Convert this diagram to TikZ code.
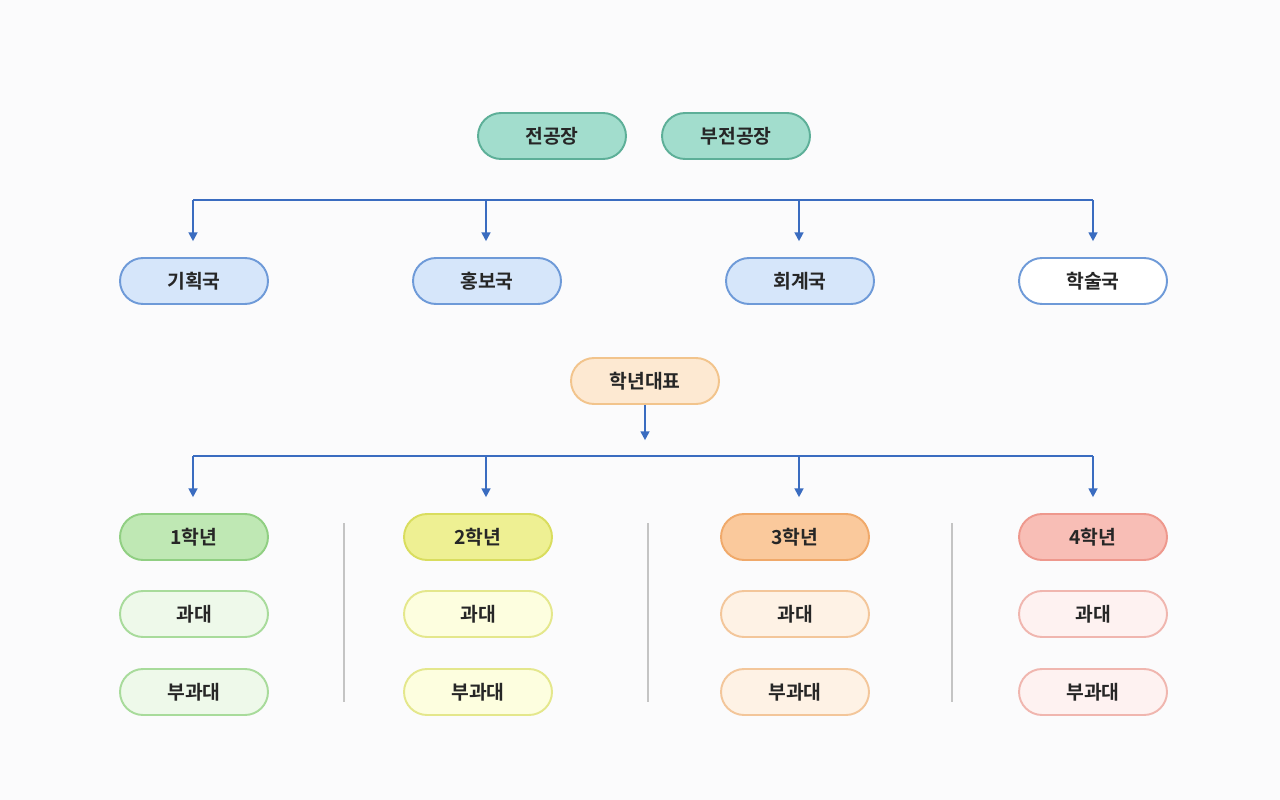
\documentclass[tikz,border=0pt]{standalone}
\usepackage{fontspec}
\setmainfont{Noto Sans CJK KR}[BoldFont={Noto Sans CJK KR Bold}]
\usetikzlibrary{arrows.meta}

\definecolor{sfondo}{HTML}{FBFBFC}
\definecolor{freccia}{HTML}{3A6CC0}
\definecolor{tealF}{HTML}{A2DDCD}\definecolor{tealD}{HTML}{5DAF98}
\definecolor{bluF}{HTML}{D6E6FA}\definecolor{bluD}{HTML}{6E9AD8}
\definecolor{aranF}{HTML}{FDE9D2}\definecolor{aranD}{HTML}{F2C48C}
\definecolor{verF}{HTML}{BFE8B4}\definecolor{verD}{HTML}{90CF82}
\definecolor{verL}{HTML}{EEF9EA}\definecolor{verLD}{HTML}{A8DB9B}
\definecolor{gialF}{HTML}{EEF093}\definecolor{gialD}{HTML}{D9DD5E}
\definecolor{gialL}{HTML}{FDFEDF}\definecolor{gialLD}{HTML}{E4E78C}
\definecolor{arF}{HTML}{FAC99C}\definecolor{arD}{HTML}{F0A96A}
\definecolor{arL}{HTML}{FEF2E5}\definecolor{arLD}{HTML}{F3C69A}
\definecolor{rosF}{HTML}{F8BEB6}\definecolor{rosD}{HTML}{EE988D}
\definecolor{rosL}{HTML}{FEF2F1}\definecolor{rosLD}{HTML}{F0B6AF}
\definecolor{sep}{HTML}{C4C4C4}

\tikzset{
  pill/.style={draw, line width=1.1pt, rounded corners=0.46cm,
    minimum width=2.96cm, minimum height=0.92cm, inner sep=0pt,
    font=\fontsize{11}{13}\selectfont\bfseries, text=black!85},
  linea/.style={draw=freccia, line width=1.1pt},
  punta/.style={linea, -{Triangle[length=5pt,width=5pt]}},
}

\begin{document}
\begin{tikzpicture}[x=0.02cm, y=-0.02cm]
        \fill[sfondo] (0,0) rectangle (1280,800);
        \useasboundingbox (0,0) rectangle (1280,800);
        %vertice
        \node[pill, fill=tealF, draw=tealD] (jeon) at (552,136) {전공장};
        \node[pill, fill=tealF, draw=tealD] (bujeon) at (736,136) {부전공장};
        %dipartimenti
        \node[pill, fill=bluF, draw=bluD] (gihoek) at (194,281) {기획국};
        \node[pill, fill=bluF, draw=bluD] (hongbo) at (487,281) {홍보국};
        \node[pill, fill=bluF, draw=bluD] (hoegye) at (800,281) {회계국};
        \node[pill, fill=white, draw=bluD] (haksul) at (1093,281) {학술국};
        \coordinate (bA1) at (193,200);
        \coordinate (bA2) at (486,200);
        \coordinate (bA3) at (799,200);
        \coordinate (bA4) at (1093,200);
        \draw[linea] (bA1) -- (bA4); %linea orizzontale
        \draw[punta, shorten >=9pt] (bA1) -- (bA1 |- gihoek.north);
        \draw[punta, shorten >=9pt] (bA2) -- (bA2 |- hongbo.north);
        \draw[punta, shorten >=9pt] (bA3) -- (bA3 |- hoegye.north);
        \draw[punta, shorten >=9pt] (bA4) -- (bA4 |- haksul.north);
        %rappresentante
        \node[pill, fill=aranF, draw=aranD] (daepyo) at (645,381) {학년대표};
        \coordinate (bB1) at (193,456);
        \coordinate (bB2) at (486,456);
        \coordinate (bB3) at (799,456);
        \coordinate (bB4) at (1093,456);
        \draw[punta, shorten >=9pt] (daepyo.south) -- (daepyo.south |- bB1);
        \draw[linea] (bB1) -- (bB4); %linea orizzontale
        %anni
        \node[pill, fill=verF, draw=verD] (g1) at (194,537) {1학년};
        \node[pill, fill=gialF, draw=gialD] (g2) at (478,537) {2학년};
        \node[pill, fill=arF, draw=arD] (g3) at (795,537) {3학년};
        \node[pill, fill=rosF, draw=rosD] (g4) at (1093,537) {4학년};
        \draw[punta, shorten >=9pt] (bB1) -- (bB1 |- g1.north);
        \draw[punta, shorten >=9pt] (bB2) -- (bB2 |- g2.north);
        \draw[punta, shorten >=9pt] (bB3) -- (bB3 |- g3.north);
        \draw[punta, shorten >=9pt] (bB4) -- (bB4 |- g4.north);
        %rappresentanti di classe
        \node[pill, fill=verL, draw=verLD] (gwa1) at (194,614) {과대};
        \node[pill, fill=verL, draw=verLD] (bu1) at (194,692) {부과대};
        \node[pill, fill=gialL, draw=gialLD] (gwa2) at (478,614) {과대};
        \node[pill, fill=gialL, draw=gialLD] (bu2) at (478,692) {부과대};
        \node[pill, fill=arL, draw=arLD] (gwa3) at (795,614) {과대};
        \node[pill, fill=arL, draw=arLD] (bu3) at (795,692) {부과대};
        \node[pill, fill=rosL, draw=rosLD] (gwa4) at (1093,614) {과대};
        \node[pill, fill=rosL, draw=rosLD] (bu4) at (1093,692) {부과대};
        %separatori
        \draw[sep, line width=1.1pt] (344,523) -- (344,702);
        \draw[sep, line width=1.1pt] (648,523) -- (648,702);
        \draw[sep, line width=1.1pt] (952,523) -- (952,702);
\end{tikzpicture}
\end{document}
